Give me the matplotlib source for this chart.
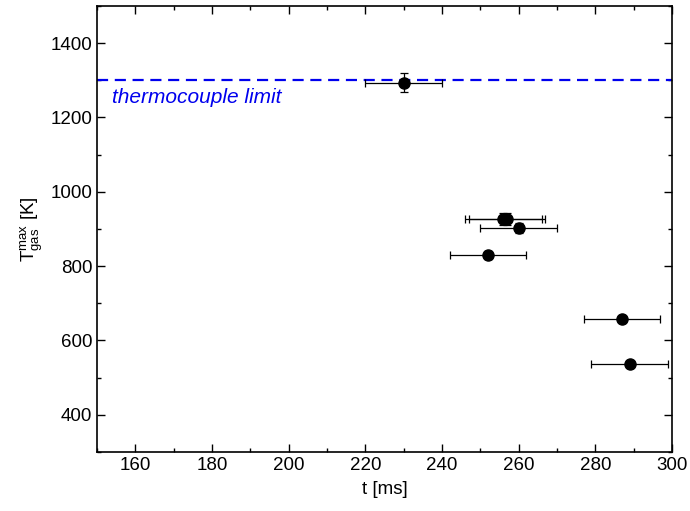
import matplotlib.pyplot as plt
from matplotlib.ticker import MultipleLocator

plt.rcParams["font.family"] = ["Liberation Sans", "DejaVu Sans"]
plt.rcParams["mathtext.fontset"] = "custom"
plt.rcParams["mathtext.rm"] = "Liberation Sans"
plt.rcParams["mathtext.it"] = "Liberation Sans:italic"

# peak gas temperature vs. time
t_ms = [230, 256, 257, 260, 252, 287, 289]
t_err = [10, 10, 10, 10, 10, 10, 10]
T_max = [1294, 927, 927, 903, 830, 658, 537]
T_err = [25, 15, 15, 13, 12, 8, 7]

tc_limit = 1300

fig = plt.figure(figsize=(6.9, 5.11), dpi=100)
ax = fig.add_axes([0.1406, 0.1155, 0.8333, 0.8728])

ax.axhline(tc_limit, color="#0000ee", linestyle=(0, (5, 3)), linewidth=1.6)
ax.text(154, tc_limit - 20, "thermocouple limit", color="#0000ee",
        fontsize=15, style="italic", va="top", ha="left")

ax.errorbar(t_ms, T_max, xerr=t_err, yerr=T_err, fmt="o", color="black",
            markersize=8, ecolor="black", elinewidth=0.9, capsize=3,
            capthick=0.9)

ax.set_xlim(150, 300)
ax.set_ylim(300, 1500)
ax.xaxis.set_major_locator(MultipleLocator(20))
ax.xaxis.set_minor_locator(MultipleLocator(10))
ax.yaxis.set_major_locator(MultipleLocator(200))
ax.yaxis.set_minor_locator(MultipleLocator(100))
ax.tick_params(which="both", direction="in", top=True, right=True,
               labelsize=13.5, width=1)
ax.tick_params(which="major", length=6)
ax.tick_params(which="minor", length=3)
for s in ax.spines.values():
    s.set_linewidth(1.2)

ax.set_xlabel("t [ms]", fontsize=13.5, labelpad=5)
ax.set_ylabel(r"T$_{\mathregular{gas}}^{\mathregular{max}}$ [K]", fontsize=13.5, labelpad=4)

fig.savefig("out.png", dpi=100)
